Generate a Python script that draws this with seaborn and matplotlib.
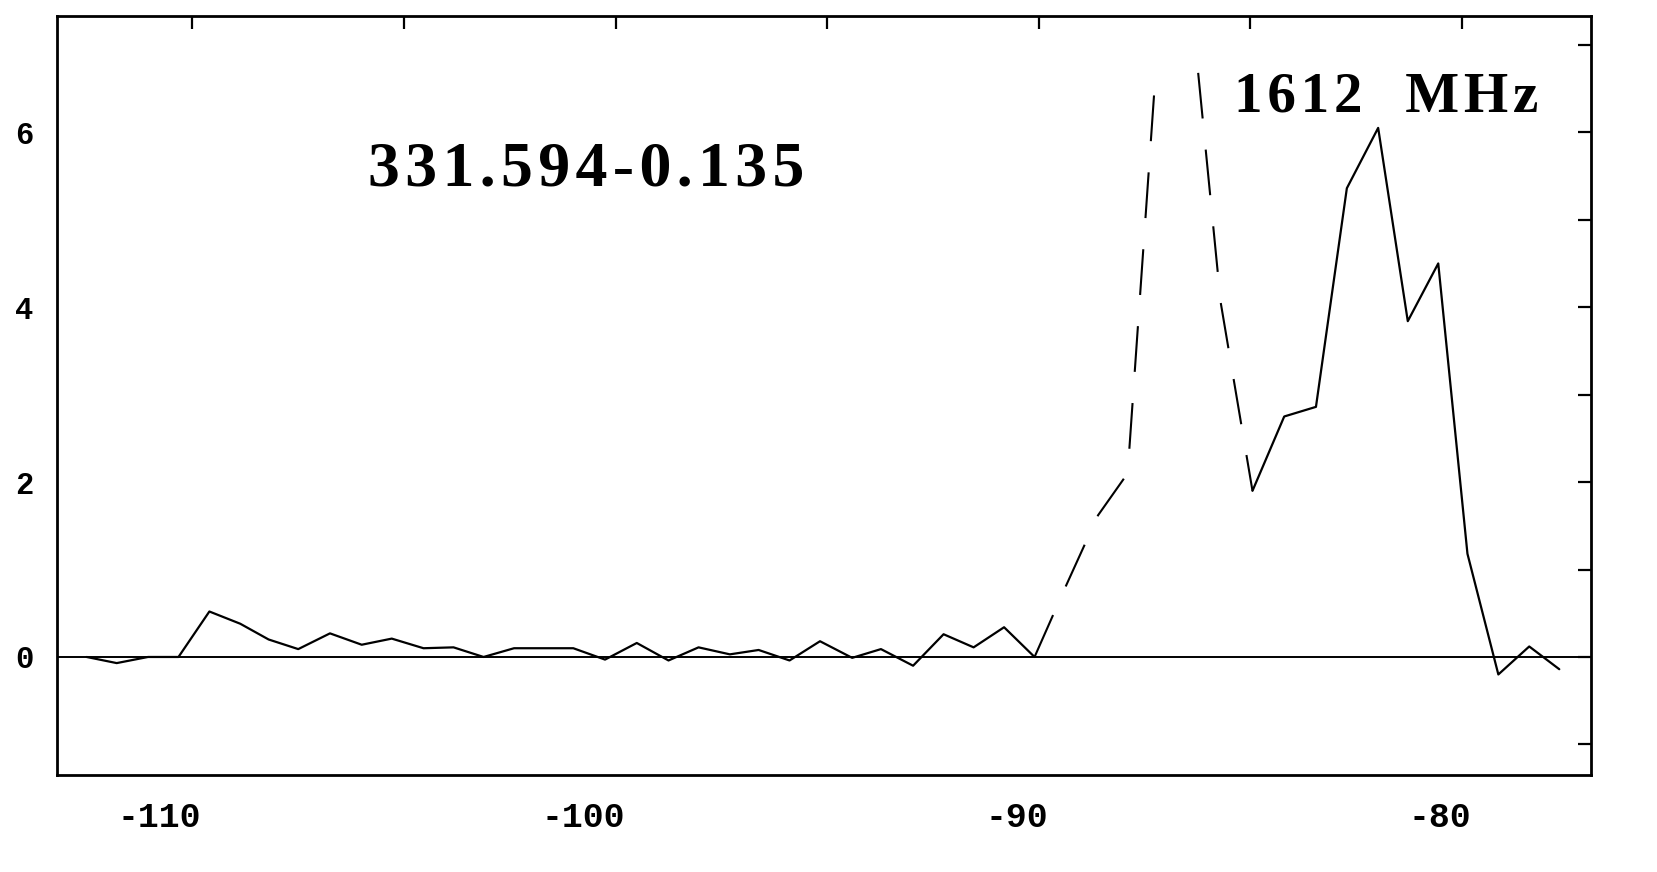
import matplotlib
matplotlib.use("Agg")
import matplotlib.pyplot as plt
import matplotlib.transforms as mtransforms
from matplotlib.patches import Rectangle
import seaborn as sns

# 1612 MHz OH spectrum, flux (Jy) against LSR velocity (km/s)
# solid baseline channels, left of the contaminating feature
vel_low = [-112.5, -111.79, -111.05, -110.33, -109.6, -108.87, -108.2, -107.5,
           -106.75, -106.0, -105.29, -104.54, -103.83, -103.12, -102.4, -101.7,
           -101.0, -100.25, -99.5, -98.75, -98.04, -97.3, -96.62, -95.89,
           -95.17, -94.41, -93.73, -92.97, -92.25, -91.54, -90.82, -90.1]
flux_low = [0.0, -0.07, 0.0, 0.0, 0.52, 0.38, 0.2, 0.09,
            0.27, 0.14, 0.21, 0.1, 0.11, 0.0, 0.1, 0.1,
            0.1, -0.03, 0.16, -0.04, 0.11, 0.03, 0.08, -0.04,
            0.18, -0.01, 0.09, -0.1, 0.26, 0.11, 0.34, 0.0]

# dashed part (peak truncated in the original)
vel_dash = [-90.1, -89.37, -88.6, -87.9, -87.15, -86.4, -85.7, -84.95]
flux_dash = [0.0, 0.8, 1.62, 2.1, 7.3, 7.5, 4.05, 1.9]
peak_cut = 6.75

# solid, right part
vel_high = [-84.95, -84.2, -83.45, -82.72, -81.98, -81.28, -80.56, -79.87,
            -79.14, -78.41, -77.7]
flux_high = [1.9, 2.75, 2.86, 5.36, 6.05, 3.84, 4.5, 1.18,
             -0.2, 0.12, -0.14]

x_major = [-110, -100, -90, -80]
x_minor = [-105, -95, -85]
y_major = [0, 2, 4, 6]
y_minor = [-1, 1, 3, 5, 7]

source_label = "331.594-0.135"
freq_label = "1612  MHz"

HAIR = "\u200a"


def spaced(s: str) -> str:
    # the printed labels are letter-spaced
    return HAIR.join(s)


def main():
    sns.set_style("white")
    plt.rcParams["font.family"] = ["DejaVu Sans"]
    plt.rcParams["text.color"] = "black"

    fig = plt.figure(figsize=(16.58, 8.72), dpi=100)
    ax = fig.add_axes([0.0344, 0.1112, 0.9252, 0.8705])

    ax.axhline(0, color="black", lw=1.4, zorder=1)

    sns.lineplot(x=vel_low, y=flux_low, ax=ax, color="black", lw=1.6,
                 sort=False, estimator=None)
    sns.lineplot(x=vel_dash, y=flux_dash, ax=ax, color="black", lw=1.5,
                 sort=False, estimator=None, linestyle=(0, (22, 15)))
    dash_line = ax.lines[-1]
    cut = Rectangle((-120, -5), 60, 5 + peak_cut, transform=ax.transData)
    dash_line.set_clip_path(cut)
    sns.lineplot(x=vel_high, y=flux_high, ax=ax, color="black", lw=1.6,
                 sort=False, estimator=None)

    ax.set_xlim(-113.2, -76.95)
    ax.set_ylim(-1.35, 7.33)

    ax.set_xticks(x_major)
    ax.set_xticks(x_minor, minor=True)
    ax.set_xticklabels([f"{v:d}" for v in x_major])
    ax.set_yticks(y_major)
    ax.set_yticks(y_minor, minor=True)
    ax.set_yticklabels([f"{v:d}" for v in y_major])

    ax.tick_params(which="both", direction="in", length=9.5, width=1.6,
                   top=True, right=True, colors="black")
    ax.tick_params(axis="x", which="major", pad=19, labelsize=25)
    ax.tick_params(axis="y", which="major", pad=17, labelsize=22)
    for lab in ax.get_xticklabels() + ax.get_yticklabels():
        lab.set_fontweight("bold")
        lab.set_family(["Liberation Mono", "DejaVu Sans Mono"])

    # labels sit with their last digit under the tick
    shift = mtransforms.ScaledTranslation(0.09, 0, fig.dpi_scale_trans)
    for lab in ax.get_xticklabels():
        lab.set_horizontalalignment("right")
        lab.set_transform(lab.get_transform() + shift)

    for s in ax.spines.values():
        s.set_color("black")
        s.set_linewidth(2.0)

    ax.set_xlabel("")
    ax.set_ylabel("")

    ax.text(-100.69, 5.39, spaced(source_label), ha="center", va="baseline",
            fontsize=46, fontweight="bold", color="black",
            family=["Liberation Serif", "DejaVu Serif"])
    ax.text(-81.79, 6.24, spaced(freq_label), ha="center", va="baseline",
            fontsize=41, fontweight="bold", color="black",
            family=["Liberation Serif", "DejaVu Serif"])

    fig.savefig("out.png", dpi=100)
    plt.close(fig)


if __name__ == "__main__":
    main()
